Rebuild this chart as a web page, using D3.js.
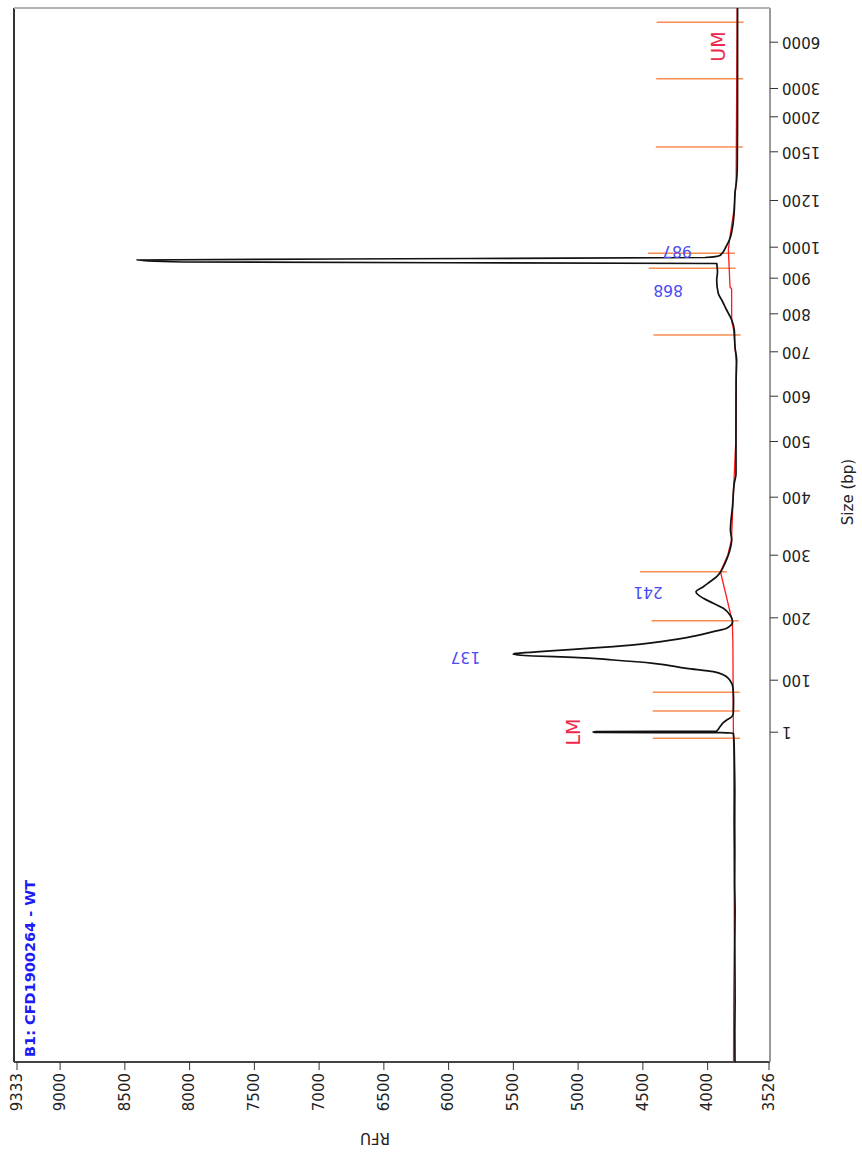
<!DOCTYPE html>
<html>
<head>
<meta charset="utf-8">
<script src="https://cdn.jsdelivr.net/npm/d3@7"></script>
<style>
  html, body { margin: 0; padding: 0; background: #fff; }
  svg { display: block; }
  text { font-family: "DejaVu Sans", Verdana, sans-serif; }
</style>
</head>
<body>
<svg id="chart" width="862" height="1157"></svg>
<script>
// Sample name
const sampleTitle = "B1: CFD1900264 - WT";

// Electropherogram trace: migration time (min) and signal (RFU)
const traceTime = [10.0, 11.5, 13.0, 14.5, 16.0, 17.5, 19.0, 20.5, 22.0, 23.5, 25.0, 26.0, 26.3,
  26.435, 26.465, 26.48, 26.5, 26.52, 26.55, 26.765, 26.965, 27.1, 27.265, 27.435, 28.1, 28.685, 29.185,
  29.515, 29.685, 29.935, 30.1, 30.235, 30.3, 30.385, 30.43, 30.515, 30.635, 30.765, 30.965, 31.215,
  31.515, 31.685, 32.015, 32.35, 32.685, 32.935, 33.185, 33.515, 33.765, 34.015, 34.265, 34.515,
  34.935, 35.35, 35.765, 36.1, 36.6, 37.85, 38.95, 39.4, 41.2, 44.1, 45.1, 45.765, 46.6, 47.1,
  47.6, 48.1, 48.435, 49.1, 49.5, 49.925, 50.0, 50.1, 50.175, 50.225, 50.325, 50.765, 51.185,
  51.765, 52.6, 53.45, 54.1, 54.85, 58.1, 62.7];
const traceRFU = [3785, 3786, 3784, 3785, 3786, 3784, 3787, 3786, 3787, 3786, 3789, 3792, 3795,
  3798, 3887, 4866, 4881, 4858, 3926, 3901, 3875, 3849, 3810, 3798, 3796, 3800, 3836,
  3952, 4158, 4416, 4725, 5033, 5342, 5497, 5480, 5291, 5033, 4725, 4416, 4158,
  3952, 3849, 3803, 3823, 3875, 3952, 4029, 4086, 4029, 3978, 3926, 3895,
  3862, 3836, 3818, 3810, 3820, 3803, 3790, 3777, 3777, 3776, 3772, 3785, 3790, 3810,
  3849, 3887, 3914, 3926, 3920, 3926, 8047, 8402, 5831, 4016, 3901, 3854, 3823,
  3803, 3790, 3785, 3772, 3767, 3765, 3765];

// Fitted baseline under the trace
const baseTime = [10.0, 13.0, 16.0, 19.0, 22.0, 25.0, 26.4, 28.6, 31.0, 32.015, 34.515, 35.35,
  36.1, 38.0, 41.0, 45.0, 46.6, 47.05, 48.65, 48.75, 50.6, 51.2, 52.6, 54.0, 62.7];
const baseRFU = [3796, 3795, 3790, 3791, 3795, 3793, 3797, 3799, 3801, 3805, 3897, 3840,
  3812, 3800, 3779, 3775, 3795, 3810, 3811, 3823, 3836, 3825, 3793, 3776, 3768];

// Ladder calibration: fragment size (bp) and its migration time (min)
const ladderSizes = [1, 100, 200, 300, 400, 500, 600, 700, 800, 900, 1000, 1200, 1500, 2000, 3000, 6000];
const ladderTimes = [26.465, 29.065, 32.185, 35.315, 38.215, 41.0, 43.265, 45.485, 47.385,
  49.165, 50.715, 53.05, 55.485, 57.235, 58.65, 60.965];

// Signal axis ticks
const rfuTicks = [9333, 9000, 8500, 8000, 7500, 7000, 6500, 6000, 5500, 5000, 4500, 4000, 3526];
const rfuDomain = [9333, 3526];
const timeDomain = [10, 62.7];

// Called peaks (size in bp, peak height in RFU)
const peakSizes = [137, 241, 868, 987];
const peakHeights = [5497, 4086, 3931, 3862];

// Lower / upper markers
const markerNames = ["LM", "UM"];
const markerTimes = [26.5, 60.77];
const markerHeights = [4881, 3765];

// Peak boundary times (min)
const boundaryTimes = [26.185, 27.55, 28.485, 32.065, 34.515, 46.35, 49.685, 50.435, 55.75, 59.165, 61.985];

// ---- drawing ----
const svg = d3.select("#chart");
const W = 1054;   // time extent of the plot
const H = 756;    // signal extent of the plot

// The plot is laid out with time running along x and signal along y,
// then turned a quarter turn so time reads upward.
const g = svg.append("g").attr("transform", "translate(14,1062) rotate(-90)");

const x = d3.scaleLinear().domain(timeDomain).range([0, W]);
const y = d3.scaleLinear().domain(rfuDomain).range([2.5, 754.5]);
const sizeToTime = d3.scaleLinear().domain(ladderSizes).range(ladderTimes);
const sizeScale = d3.scaleLinear().domain(ladderSizes).range(ladderTimes.map(t => x(t)));

const basePts = baseTime.map((t, i) => [t, baseRFU[i]]);
const baseAt = t => {
  const i = d3.bisector(d => d[0]).right(basePts, t);
  const a = basePts[Math.max(0, i - 1)], b = basePts[Math.min(basePts.length - 1, i)];
  if (a === b) return a[1];
  return a[1] + (b[1] - a[1]) * (t - a[0]) / (b[0] - a[0]);
};

// frame
g.append("line").attr("x1", 0).attr("x2", W).attr("y1", 0).attr("y2", 0)
  .attr("stroke", "#333").attr("stroke-width", 2);
g.append("line").attr("x1", 0).attr("x2", 0).attr("y1", 0).attr("y2", H)
  .attr("stroke", "#444").attr("stroke-width", 2);
g.append("line").attr("x1", 0).attr("x2", W).attr("y1", H).attr("y2", H)
  .attr("stroke", "#9a9a9a").attr("stroke-width", 2);
g.append("line").attr("x1", W).attr("x2", W).attr("y1", 0).attr("y2", H)
  .attr("stroke", "#b4b4b4").attr("stroke-width", 2);

// signal axis
const yAxis = g.append("g")
  .call(d3.axisLeft(y).tickValues(rfuTicks).tickSize(8).tickPadding(3).tickFormat(d3.format("d")));
yAxis.select(".domain").remove();
yAxis.selectAll("text").attr("font-size", 15).attr("font-family", "DejaVu Sans, sans-serif").attr("fill", "#222");
yAxis.selectAll("line").attr("stroke", "#333");

// size axis
const xAxis = g.append("g").attr("transform", `translate(0,${H})`)
  .call(d3.axisBottom(sizeScale).tickValues(ladderSizes).tickSize(8).tickFormat(d3.format("d")));
xAxis.select(".domain").remove();
xAxis.selectAll("line").attr("stroke", "#333");
xAxis.selectAll("text")
  .attr("transform", "rotate(-90)")
  .attr("text-anchor", "end")
  .attr("x", -12).attr("y", 0).attr("dy", "0.35em")
  .attr("font-size", 15).attr("font-family", "DejaVu Sans, sans-serif").attr("fill", "#222");

// axis titles
g.append("text").attr("transform", "translate(-76,361) rotate(-90)")
  .attr("text-anchor", "middle").attr("dy", "0.35em")
  .attr("font-size", 15).attr("fill", "#222").text("RFU");
g.append("text").attr("x", 570).attr("y", 834)
  .attr("text-anchor", "middle").attr("dy", "0.35em")
  .attr("font-size", 15).attr("fill", "#222").text("Size (bp)");

// peak boundaries
g.selectAll(".bound").data(boundaryTimes).join("line")
  .attr("class", "bound")
  .attr("x1", d => x(d)).attr("x2", d => x(d))
  .attr("y1", d => y(baseAt(d) - 50)).attr("y2", d => y(baseAt(d) + 622))
  .attr("stroke", "#fa8c52").attr("stroke-width", 1.6);

// baseline
g.append("path").datum(basePts)
  .attr("fill", "none").attr("stroke", "#ff1a1a").attr("stroke-width", 1.3)
  .attr("d", d3.line().x(d => x(d[0])).y(d => y(d[1])));

// trace
g.append("path").datum(traceTime.map((t, i) => [t, traceRFU[i]]))
  .attr("fill", "none").attr("stroke", "#111").attr("stroke-width", 1.7)
  .attr("d", d3.line().curve(d3.curveMonotoneX).x(d => x(d[0])).y(d => y(d[1])));

// peak size labels
g.selectAll(".plabel").data(peakSizes).join("text")
  .attr("class", "plabel")
  .attr("transform", (d, i) => `translate(${x(sizeToTime(d))},${y(peakHeights[i] + 370)}) rotate(-90)`)
  .attr("text-anchor", "middle").attr("dy", "0.35em")
  .attr("font-size", 15.5).attr("fill", "#4c4cf5")
  .text(d => d);

// marker labels
g.selectAll(".mlabel").data(markerNames).join("text")
  .attr("class", "mlabel")
  .attr("x", (d, i) => x(markerTimes[i]))
  .attr("y", (d, i) => y(markerHeights[i] + 100))
  .attr("text-anchor", "middle")
  .attr("font-size", 19).attr("fill", "#f0284c")
  .text(d => d);

// sample title
g.append("text").attr("x", 5).attr("y", 21)
  .attr("font-size", 14.5).attr("font-weight", "bold").attr("fill", "#1c1cf5")
  .text(sampleTitle);
</script>
</body>
</html>
